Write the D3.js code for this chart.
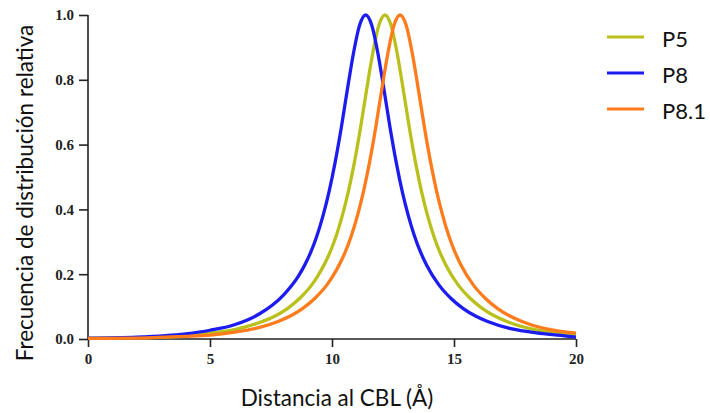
<!DOCTYPE html>
<html>
<head>
<meta charset="utf-8">
<script src="https://cdn.jsdelivr.net/npm/d3@7"></script>
<style>
  html, body { margin: 0; padding: 0; background: #fff; }
  svg { display: block; }
  .tick text { font-family: "Liberation Serif", "Times New Roman", serif; font-weight: bold; font-size: 15px; fill: #222; }
  .title { font-family: Lato, "Open Sans", sans-serif; fill: #111; }
  .legend text { font-family: Lato, "Open Sans", sans-serif; font-size: 22px; fill: #111; }
</style>
</head>
<body>
<svg id="chart" width="710" height="413"></svg>
<script>
// Relative distribution frequency vs. distance to the CBL (Å)
const seriesNames = ["P5", "P8", "P8.1"];
const seriesColors = ["#b9c01c", "#1c1cf0", "#ff7b1c"];

const p5X = [0, 2, 4, 5, 6, 7, 7.67, 8.17, 8.67, 9.17, 9.42, 9.67, 9.92, 10.17, 10.42, 10.67, 10.92, 11.17, 11.42, 11.67, 11.92, 12.17,
             12.42, 12.67, 12.92, 13.17, 13.42, 13.67, 13.92, 14.17, 14.42, 14.67, 15.17, 15.67, 16.17, 16.67, 17.17, 18.17, 19.17, 20];
const p5Y = [0.002, 0.004, 0.010, 0.018, 0.029, 0.050, 0.071, 0.094, 0.125, 0.167, 0.195, 0.228, 0.268, 0.318, 0.38, 0.455, 0.546, 0.652, 0.77, 0.882, 0.968, 1.0,
             0.968, 0.882, 0.77, 0.652, 0.546, 0.455, 0.38, 0.318, 0.268, 0.228, 0.167, 0.125, 0.094, 0.071, 0.054, 0.031, 0.019, 0.012];

const p8X = [0, 2, 4, 5, 6, 7, 8, 8.63, 8.88, 9.13, 9.38, 9.63, 9.88, 10.13, 10.38, 10.63, 10.88, 11.13, 11.38,
             11.63, 11.88, 12.13, 12.38, 12.63, 12.88, 13.13, 13.38, 13.63, 13.88, 14.38, 14.88, 15.38, 15.88, 16.38, 17.38, 18.38, 19.38, 20];
const p8Y = [0.003, 0.006, 0.016, 0.027, 0.044, 0.0765, 0.135, 0.195, 0.228, 0.268, 0.318, 0.38, 0.455, 0.546, 0.652, 0.77, 0.882, 0.968, 1.0,
             0.968, 0.882, 0.77, 0.652, 0.546, 0.455, 0.38, 0.318, 0.268, 0.228, 0.167, 0.125, 0.094, 0.071, 0.054, 0.031, 0.019, 0.011, 0.006];

const p81X = [0, 2, 4, 5, 6, 7, 7.79, 8.29, 8.79, 9.29, 9.79, 10.04, 10.29, 10.54, 10.79, 11.04, 11.29, 11.54, 11.79, 12.04, 12.29, 12.54, 12.79,
              13.04, 13.29, 13.54, 13.79, 14.04, 14.29, 14.54, 14.79, 15.04, 15.29, 15.79, 16.29, 16.79, 17.29, 17.79, 18.79, 20];
const p81Y = [0.002, 0.003, 0.008, 0.012, 0.021, 0.035, 0.054, 0.071, 0.094, 0.125, 0.167, 0.195, 0.228, 0.268, 0.318, 0.38, 0.455, 0.546, 0.652, 0.77, 0.882, 0.968, 1.0,
              0.968, 0.882, 0.77, 0.652, 0.546, 0.455, 0.38, 0.318, 0.268, 0.228, 0.167, 0.125, 0.094, 0.071, 0.054, 0.031, 0.018];

const xTicks = [0, 5, 10, 15, 20];
const yTicks = [0, 0.2, 0.4, 0.6, 0.8, 1.0];

const xLabel = "Distancia al CBL (Å)";
const yLabel = "Frecuencia de distribución relativa";

const svg = d3.select("#chart");
const x = d3.scaleLinear().domain([0, 20]).range([88, 576]);
const y = d3.scaleLinear().domain([0, 1]).range([339, 15]);

const series = [
  { name: seriesNames[0], color: seriesColors[0], xs: p5X, ys: p5Y },
  { name: seriesNames[1], color: seriesColors[1], xs: p8X, ys: p8Y },
  { name: seriesNames[2], color: seriesColors[2], xs: p81X, ys: p81Y }
];

// axes
const xAxis = svg.append("g")
  .attr("transform", `translate(0,${y(0)})`)
  .call(d3.axisBottom(x).tickValues(xTicks).tickFormat(d3.format("d")).tickSize(8).tickPadding(6));
const yAxis = svg.append("g")
  .attr("transform", `translate(${x(0)},0)`)
  .call(d3.axisLeft(y).tickValues(yTicks).tickFormat(d3.format(".1f")).tickSize(9).tickPadding(5));

[xAxis, yAxis].forEach(g => {
  g.select(".domain").attr("stroke", "#222").attr("stroke-width", 1.6);
  g.selectAll(".tick line").attr("stroke", "#222").attr("stroke-width", 1.6);
});
// plain axis lines without outer end ticks
xAxis.select(".domain").attr("d", `M${x(0)},0H${x(20)}`);
yAxis.select(".domain").attr("d", `M0,${y(1)}V${y(0)}`);

// curves
const line = d3.line()
  .x(d => x(d[0]))
  .y(d => y(d[1]))
  .curve(d3.curveMonotoneX);

series.forEach(s => {
  const pts = s.xs.map((v, i) => [v, s.ys[i]]);
  svg.append("path")
    .datum(pts)
    .attr("fill", "none")
    .attr("stroke", s.color)
    .attr("stroke-width", 3.3)
    .attr("stroke-linejoin", "round")
    .attr("d", line);
});

// axis titles
svg.append("text")
  .attr("class", "title")
  .attr("x", 337)
  .attr("y", 406)
  .attr("text-anchor", "middle")
  .style("font-size", "22.5px")
  .text(xLabel);

svg.append("text")
  .attr("class", "title")
  .attr("transform", `translate(33,193) rotate(-90)`)
  .attr("text-anchor", "middle")
  .style("font-size", "22.5px")
  .text(yLabel);

// legend
const legend = svg.append("g").attr("class", "legend");
series.forEach((s, i) => {
  const ly = 37 + i * 36;
  legend.append("line")
    .attr("x1", 607).attr("x2", 644)
    .attr("y1", ly).attr("y2", ly)
    .attr("stroke", s.color)
    .attr("stroke-width", 3);
  legend.append("text")
    .attr("x", 662)
    .attr("y", ly + 10)
    .text(s.name);
});
</script>
</body>
</html>
